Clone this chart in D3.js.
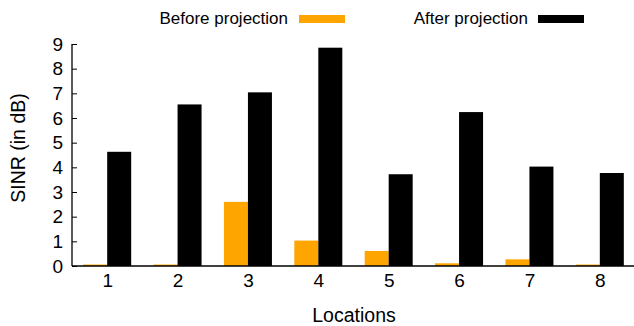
<!DOCTYPE html>
<html><head><meta charset="utf-8">
<script src="https://cdn.jsdelivr.net/npm/d3@7"></script>
<style>body{margin:0;background:#fff}svg{display:block;font-family:"Liberation Sans",Arial,sans-serif}</style>
</head><body>
<script>
const locations = [1, 2, 3, 4, 5, 6, 7, 8];
const beforeProjection = [0.06, 0.06, 2.6, 1.03, 0.61, 0.11, 0.27, 0.06];
const afterProjection = [4.63, 6.55, 7.04, 8.85, 3.72, 6.24, 4.03, 3.77];
const yTicks = [0, 1, 2, 3, 4, 5, 6, 7, 8, 9];
const seriesNames = ["Before projection", "After projection"];
const seriesColors = ["#ffa500", "#000000"];

const W = 634, H = 326;
const svg = d3.select("body").append("svg").attr("width", W).attr("height", H);

const x = d3.scaleLinear().domain([0.5, 8.5]).range([72, 635]);
const y = d3.scaleLinear().domain([0, 9]).range([266, 44]);
const barW = 24;

const series = [beforeProjection, afterProjection];
series.forEach((vals, si) => {
  svg.append("g").selectAll("rect").data(vals).join("rect")
    .attr("x", (d, i) => x(locations[i]) + (si === 0 ? -barW : 0))
    .attr("y", d => y(d))
    .attr("width", barW)
    .attr("height", d => y(0) - y(d))
    .attr("fill", seriesColors[si]);
});

// y axis
const yAxis = d3.axisLeft(y).tickValues(yTicks).tickSize(-5).tickPadding(9).tickFormat(d3.format("d"));
const gy = svg.append("g").attr("transform", "translate(72,0)").call(yAxis);
gy.select(".domain").attr("stroke", "#000").attr("stroke-width", 1.3).attr("d", "M0,44V266");
gy.selectAll("text").attr("font-size", 19).attr("fill", "#000").attr("font-family", "Liberation Sans, Arial, sans-serif");

// x axis
const xAxis = d3.axisBottom(x).tickValues(locations).tickSize(0).tickPadding(8).tickFormat(d3.format("d"));
const gx = svg.append("g").attr("transform", "translate(0,266)").call(xAxis);
gx.select(".domain").attr("stroke", "#000").attr("stroke-width", 1.3).attr("d", "M72,0H634");
gx.selectAll("text").attr("font-size", 19).attr("fill", "#000").attr("font-family", "Liberation Sans, Arial, sans-serif");

// axis labels
svg.append("text").attr("x", 354).attr("y", 322).attr("text-anchor", "middle")
  .attr("font-size", 19.5).text("Locations");
svg.append("text").attr("transform", "translate(25,148) rotate(-90)").attr("text-anchor", "middle")
  .attr("font-size", 19.5).text("SINR (in dB)");

// legend
const legendTextRight = [288, 528];
const legendSwatchX = [299, 538];
seriesNames.forEach((name, i) => {
  svg.append("text").attr("x", legendTextRight[i]).attr("y", 24).attr("text-anchor", "end")
    .attr("font-size", 17).text(name);
  svg.append("rect").attr("x", legendSwatchX[i]).attr("y", 15).attr("width", 46).attr("height", 8)
    .attr("fill", seriesColors[i]);
});
</script>
</body></html>
